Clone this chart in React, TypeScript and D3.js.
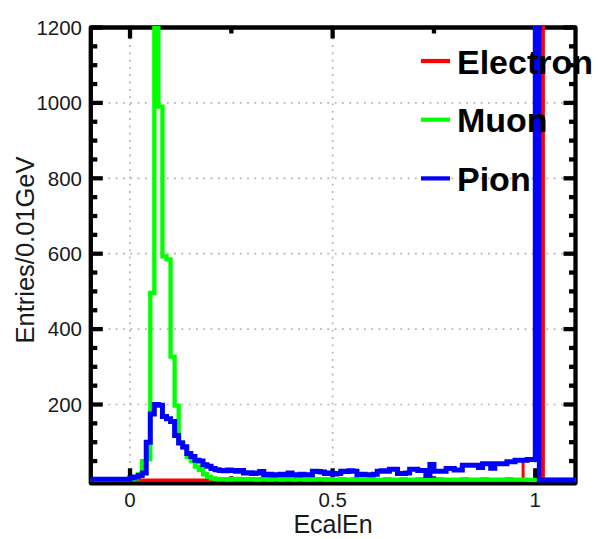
import React from 'react';
import * as d3 from 'd3';

// Histogram binning (lower edge of first bin, bin width)
const BIN_START = -0.1;
const BIN_WIDTH = 0.01;

// Electron entries per 0.01 bin, from -0.10 to 1.09
const electron: number[] = [
  0, 0, 0, 0, 0, 0, 0, 0, 0, 0,
  0, 0, 0, 0, 0, 0, 0, 0, 0, 0,
  0, 0, 0, 0, 0, 0, 0, 0, 0, 0,
  0, 0, 0, 0, 0, 0, 0, 0, 0, 0,
  0, 0, 0, 0, 0, 0, 0, 0, 0, 0,
  0, 0, 0, 0, 0, 0, 0, 0, 0, 0,
  0, 0, 0, 0, 0, 0, 0, 0, 0, 0,
  0, 0, 0, 0, 0, 0, 0, 0, 0, 0,
  0, 0, 0, 0, 0, 0, 0, 0, 0, 0,
  0, 0, 0, 0, 0, 0, 0, 0, 0, 0,
  0, 0, 0, 0, 0, 0, 0, 50, 53, 53,
  5000, 5000, 0, 0, 0, 0, 0, 0, 0, 0,
];

// Muon entries per 0.01 bin
const muon: number[] = [
  0, 0, 0, 0, 0, 0, 0, 0, 0, 0,
  2, 4, 15, 50, 55, 496, 1500, 990, 593, 585,
  327, 197, 100, 85, 61, 50, 35, 27, 15, 8,
  4, 3, 2, 2, 1, 2, 3, 2, 2, 2,
  2, 1, 2, 2, 1, 2, 2, 1, 2, 2,
  1, 2, 2, 1, 2, 1, 2, 2, 1, 2,
  1, 1, 2, 1, 1, 2, 1, 1, 1, 2,
  1, 1, 1, 2, 1, 1, 1, 2, 1, 1,
  1, 2, 1, 1, 1, 1, 2, 1, 1, 1,
  1, 1, 2, 1, 1, 1, 1, 2, 1, 1,
  1, 1, 1, 2, 1, 1, 1, 1, 0, 0,
  0, 0, 0, 0, 0, 0, 0, 0, 0, 0,
];

// Pion entries per 0.01 bin
const pion: number[] = [
  2, 2, 2, 2, 2, 2, 2, 2, 2, 2,
  6, 8, 12, 18, 100, 175, 200, 198, 168, 162,
  155, 118, 98, 88, 70, 62, 52, 50, 40, 36,
  30, 27, 25, 24, 26, 25, 23, 25, 18, 19,
  17, 18, 22, 14, 15, 13, 14, 15, 14, 18,
  14, 13, 15, 14, 14, 23, 22, 21, 17, 18,
  16, 17, 23, 22, 24, 23, 14, 15, 14, 14,
  15, 23, 24, 23, 28, 28, 17, 17, 18, 28,
  28, 25, 25, 12, 41, 23, 23, 23, 30, 30,
  26, 26, 39, 39, 39, 39, 33, 43, 43, 31,
  43, 43, 43, 48, 48, 52, 52, 52, 54, 54,
  5000, 0, 0, 0, 0, 0, 0, 0, 0, 0,
];

const seriesNames = ['Electron', 'Muon', 'Pion'];
const seriesColors = ['#ff0000', '#00ff00', '#0000ff'];
const seriesWidths = [3, 4.3, 5];

const yTicks = [200, 400, 600, 800, 1000, 1200];
const yTickLabels = ['200', '400', '600', '800', '1000', '1200'];
const yGrid = [200, 400, 600, 800, 1000];
const yMinor = [50, 100, 150, 250, 300, 350, 450, 500, 550, 650, 700, 750, 850, 900, 950, 1050, 1100, 1150];
const xTicks = [0, 0.5, 1];
const xTickLabels = ['0', '0.5', '1'];
const xMinor = [0.25, 0.75];

const FONT = "'Liberation Sans', Arial, Helvetica, sans-serif";

export default function App() {
  const W = 598, H = 539;
  const frame = { left: 90.8, right: 575.5, top: 27.5, bottom: 483.3 };
  const x = d3.scaleLinear().domain([-0.1, 1.1]).range([89.5, 575.8]);
  const y = d3.scaleLinear().domain([-9, 1200]).range([frame.bottom, frame.top]);

  const stepPath = (vals: number[]) => {
    const pts: [number, number][] = vals.map((v, i) => [BIN_START + i * BIN_WIDTH, v]);
    pts.push([BIN_START + vals.length * BIN_WIDTH, vals[vals.length - 1]]);
    return (
      d3
        .line<[number, number]>()
        .x((d) => x(d[0]))
        .y((d) => y(Math.min(d[1], 1400)))
        .curve(d3.curveStepAfter)(pts) || ''
    );
  };

  const series = [electron, muon, pion];
  const legendY0 = 61;
  const legendDy = 58.7;

  return (
    <div style={{ position: 'absolute', left: 0, top: 0 }}>
      <svg width={W} height={H} style={{ display: 'block', background: '#fff' }}>
        <defs>
          <clipPath id="plotClip">
            <rect x={frame.left} y={26} width={frame.right - frame.left} height={frame.bottom - 26} />
          </clipPath>
        </defs>
        <rect x={0} y={0} width={W} height={H} fill="#fff" />

        {/* grid */}
        <g stroke="#b4b4b4" strokeWidth={1.7} strokeDasharray="1.8 5.5">
          {xTicks.map((t) => (
            <line key={'gx' + t} x1={x(t)} x2={x(t)} y1={frame.top + 3} y2={frame.bottom - 3} />
          ))}
          {yGrid.map((t) => (
            <line key={'gy' + t} x1={frame.left + 3} x2={frame.right - 3} y1={y(t)} y2={y(t)} />
          ))}
        </g>

        {/* frame and ticks */}
        <g stroke="#000" strokeWidth={4.3} fill="none">
          <rect
            x={frame.left}
            y={frame.top}
            width={frame.right - frame.left}
            height={frame.bottom - frame.top}
            strokeLinejoin="round"
          />
          {yTicks.map((t) => (
            <g key={'yt' + t}>
              <line x1={frame.left} x2={frame.left + 12} y1={y(t)} y2={y(t)} />
              <line x1={frame.right} x2={frame.right - 12} y1={y(t)} y2={y(t)} />
            </g>
          ))}
          {yMinor.map((t) => (
            <g key={'ym' + t}>
              <line x1={frame.left} x2={frame.left + 6.5} y1={y(t)} y2={y(t)} />
              <line x1={frame.right} x2={frame.right - 6.5} y1={y(t)} y2={y(t)} />
            </g>
          ))}
          {xTicks.map((t) => (
            <g key={'xt' + t}>
              <line x1={x(t)} x2={x(t)} y1={frame.bottom} y2={frame.bottom - 15} />
              <line x1={x(t)} x2={x(t)} y1={frame.top} y2={frame.top + 11} />
            </g>
          ))}
          {xMinor.map((t) => (
            <g key={'xm' + t}>
              <line x1={x(t)} x2={x(t)} y1={frame.bottom} y2={frame.bottom - 7} />
              <line x1={x(t)} x2={x(t)} y1={frame.top} y2={frame.top + 6} />
            </g>
          ))}
        </g>

        {/* histograms */}
        <g clipPath="url(#plotClip)" fill="none" strokeLinejoin="miter" strokeLinecap="butt">
          {series.map((vals, i) => (
            <path key={seriesNames[i]} d={stepPath(vals)} stroke={seriesColors[i]} strokeWidth={seriesWidths[i]} />
          ))}
        </g>

        {/* tick labels */}
        <g fontFamily={FONT} fontSize={20.5} fill="#1a1a1a">
          {yTicks.map((t, i) => (
            <text key={'yl' + t} x={82} y={y(t) + 7.3} textAnchor="end">
              {yTickLabels[i]}
            </text>
          ))}
          {xTicks.map((t, i) => (
            <text key={'xl' + t} x={x(t)} y={507} textAnchor="middle">
              {xTickLabels[i]}
            </text>
          ))}
        </g>

        {/* axis titles */}
        <text x={333} y={533} textAnchor="middle" fontFamily={FONT} fontSize={25} fill="#1a1a1a">
          EcalEn
        </text>
        <text
          transform="translate(34,250) rotate(-90)"
          textAnchor="middle"
          fontFamily={FONT}
          fontSize={25.5}
          fill="#1a1a1a"
        >
          Entries/0.01GeV
        </text>

        {/* legend */}
        <g>
          {seriesNames.map((name, i) => {
            const ly = legendY0 + i * legendDy;
            return (
              <g key={'lg' + name}>
                <line x1={421} x2={450} y1={ly} y2={ly} stroke={seriesColors[i]} strokeWidth={4.2} />
                <text x={457} y={ly + 12.5} fontFamily={FONT} fontWeight="bold" fontSize={34} fill="#000">
                  {name}
                </text>
              </g>
            );
          })}
        </g>
      </svg>
    </div>
  );
}
